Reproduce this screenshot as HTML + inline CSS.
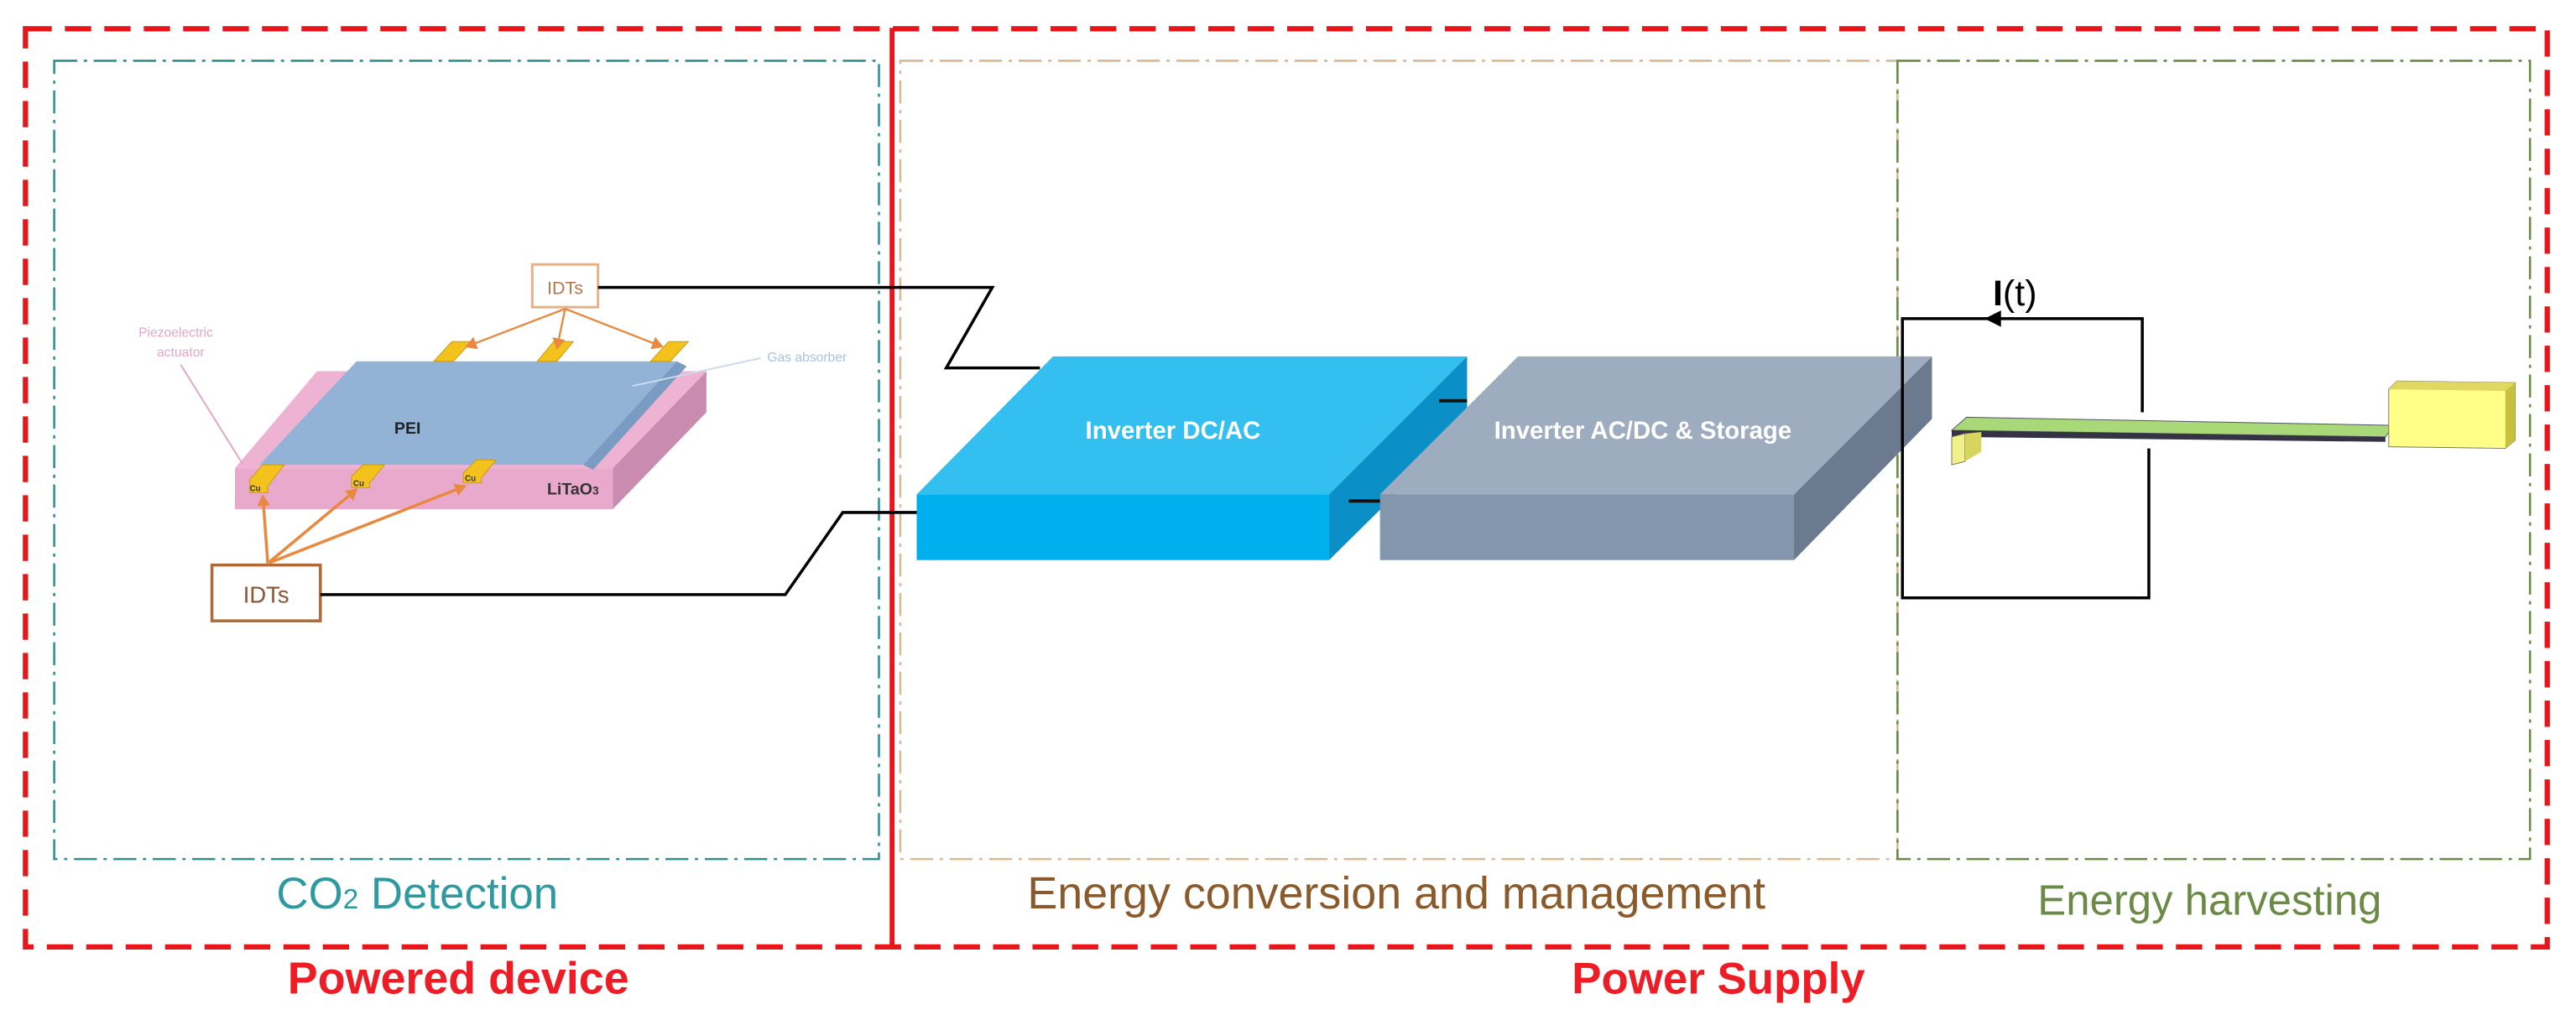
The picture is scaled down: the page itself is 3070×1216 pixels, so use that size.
<!DOCTYPE html>
<html><head><meta charset="utf-8"><style>
html,body{margin:0;padding:0;background:#fff;}
svg{display:block;}
text{font-family:"Liberation Sans",sans-serif;}
</style></head><body>
<svg width="3070" height="1216" viewBox="0 0 1568 621" preserveAspectRatio="none" xmlns="http://www.w3.org/2000/svg">
<defs>
<marker id="oa" markerWidth="8" markerHeight="8" refX="6" refY="4" orient="auto" markerUnits="userSpaceOnUse"><path d="M0,0 L7,4 L0,8 z" fill="#e8893f"/></marker>
</defs>
<rect x="33" y="37" width="502" height="486" fill="none" stroke="#2e8f95" stroke-width="1.3" stroke-dasharray="14 4 2 4"/>
<rect x="548" y="37" width="607" height="486" fill="none" stroke="#d9b892" stroke-width="1.3" stroke-dasharray="14 4 2 4"/>
<rect x="1155" y="37" width="385" height="486" fill="none" stroke="#6a8a45" stroke-width="1.3" stroke-dasharray="14 4 2 4"/>
<rect x="15.5" y="17.5" width="1535" height="559" fill="none" stroke="#e8151b" stroke-width="3.2" stroke-dasharray="16 8"/>
<line x1="543" y1="17" x2="543" y2="577" stroke="#e8151b" stroke-width="3"/>

<polygon points="373,285 430,226 430,251 373,310" fill="#c98bb0"/>
<polygon points="143,285 373,285 373,310 143,310" fill="#e8a9cc"/>
<polygon points="193,226 430,226 373,285 143,285" fill="#eeb3d3"/>
<polygon points="217,220 412,220 355,283 158,283" fill="#93b3d6"/>
<polygon points="412,220 418,223 361,286 355,283" fill="#7b9cc2"/>
<g fill="#f3c21d" stroke="#c99a10" stroke-width="0.5">
<polygon points="264,220 275,208 287,208 276,220"/>
<polygon points="327,220 337,208 349,208 339,220"/>
<polygon points="396,220 407,208 419,208 408,220"/>
<polygon points="152,300 152,292 160,283 173,283 163,296 163,300"/>
<polygon points="214,297 214,290 221,283 234,283 225,294 225,297"/>
<polygon points="282,294 282,288 290,280 302,280 293,291 293,294"/>
</g>
<g font-size="5" font-weight="bold" fill="#333"><text x="152" y="299">Cu</text><text x="215" y="296">Cu</text><text x="283" y="293">Cu</text></g>
<text x="240" y="264" font-size="10" font-weight="bold" fill="#222">PEI</text>
<text x="333" y="301" font-size="10" font-weight="bold" fill="#333">LiTaO<tspan font-size="7">3</tspan></text>
<text x="107" y="205" font-size="8" fill="#e3a6c6" text-anchor="middle">Piezoelectric</text>
<text x="110" y="217" font-size="8" fill="#e3a6c6" text-anchor="middle">actuator</text>
<line x1="110" y1="222" x2="148" y2="283" stroke="#e3a6c6" stroke-width="1"/>
<text x="467" y="220" font-size="8" fill="#a9c3df">Gas absorber</text>
<line x1="463" y1="218" x2="385" y2="235" stroke="#c9dbee" stroke-width="1"/>
<rect x="324" y="161" width="40" height="26" fill="#fff" stroke="#e8b08a" stroke-width="1.5"/>
<text x="344" y="179" font-size="11" fill="#b37850" text-anchor="middle">IDTs</text>
<rect x="129" y="344" width="66" height="34" fill="#fff" stroke="#b06a35" stroke-width="1.8"/>
<text x="162" y="367" font-size="14" fill="#8a5530" text-anchor="middle">IDTs</text>
<g stroke="#e8893f" stroke-width="1.2" fill="none" marker-end="url(#oa)">
<line x1="344" y1="188" x2="284" y2="211"/>
<line x1="344" y1="188" x2="339" y2="212"/>
<line x1="344" y1="188" x2="403" y2="211"/>
</g>
<g stroke="#e8893f" stroke-width="1.8" fill="none" marker-end="url(#oa)">
<line x1="163" y1="343" x2="160" y2="302"/>
<line x1="163" y1="343" x2="217" y2="298"/>
<line x1="163" y1="343" x2="283" y2="296"/>
</g>
<polyline points="364,175 604,175 576,224 633,224" fill="none" stroke="#000" stroke-width="1.8"/>
<polyline points="195,362 478,362 513,312 558,312" fill="none" stroke="#000" stroke-width="1.8"/>

<polygon points="809,301 893,217 893,258 809,341" fill="#0a8fc6"/>
<polygon points="641,217 893,217 809,301 558,301" fill="#33bff0"/>
<rect x="558" y="301" width="251" height="40" fill="#00b0ee"/>
<polygon points="1092,301 1176,217 1176,255 1092,341" fill="#6c7a90"/>
<polygon points="924,217 1176,217 1092,301 840,301" fill="#9eacc0"/>
<rect x="840" y="301" width="252" height="40" fill="#8496ae"/>
<line x1="876" y1="244" x2="893" y2="244" stroke="#111" stroke-width="2"/>
<line x1="821" y1="305" x2="840" y2="305" stroke="#111" stroke-width="2"/>
<text x="714" y="267" font-size="15" font-weight="bold" fill="#fff" text-anchor="middle">Inverter DC/AC</text>
<text x="1000" y="267" font-size="15" font-weight="bold" fill="#fff" text-anchor="middle">Inverter AC/DC &amp; Storage</text>

<polyline points="1304,251 1304,194 1158,194 1158,364 1308,364 1308,273" fill="none" stroke="#000" stroke-width="1.8"/>
<polygon points="1208,194 1218,189 1218,199" fill="#000"/>
<text x="1213" y="186" font-size="22" font-family="Liberation Serif,serif" fill="#000"><tspan font-weight="bold">I</tspan>(t)</text>
<polygon points="1188,262 1197,254 1457,259 1452,266" fill="#a8d878" stroke="#556" stroke-width="0.5"/>
<polygon points="1188,262 1452,266 1452,269 1188,266" fill="#334"/>
<polygon points="1188,266 1196,264 1196,281 1188,283" fill="#f2f08a" stroke="#776" stroke-width="0.5"/>
<polygon points="1196,264 1206,263 1206,275 1196,281" fill="#d8d460"/>
<polygon points="1454,237 1459,232 1531,233 1531,268 1525,273 1454,272" fill="#ffff88" stroke="#776" stroke-width="0.5"/>
<polygon points="1454,237 1459,232 1531,233 1525,238" fill="#e0d860"/>
<polygon points="1525,238 1531,233 1531,268 1525,273" fill="#c9c040"/>

<text x="254" y="553" font-size="27" fill="#2e9aa0" text-anchor="middle">CO<tspan font-size="17">2</tspan> Detection</text>
<text x="850" y="553" font-size="27.5" fill="#8b5a2b" text-anchor="middle">Energy conversion and management</text>
<text x="1345" y="557" font-size="26" fill="#6a8a45" text-anchor="middle">Energy harvesting</text>
<text x="279" y="605" font-size="27.5" font-weight="bold" fill="#ee1c24" text-anchor="middle">Powered device</text>
<text x="1046" y="605" font-size="27" font-weight="bold" fill="#ee1c24" text-anchor="middle">Power Supply</text>
</svg>
</body></html>
